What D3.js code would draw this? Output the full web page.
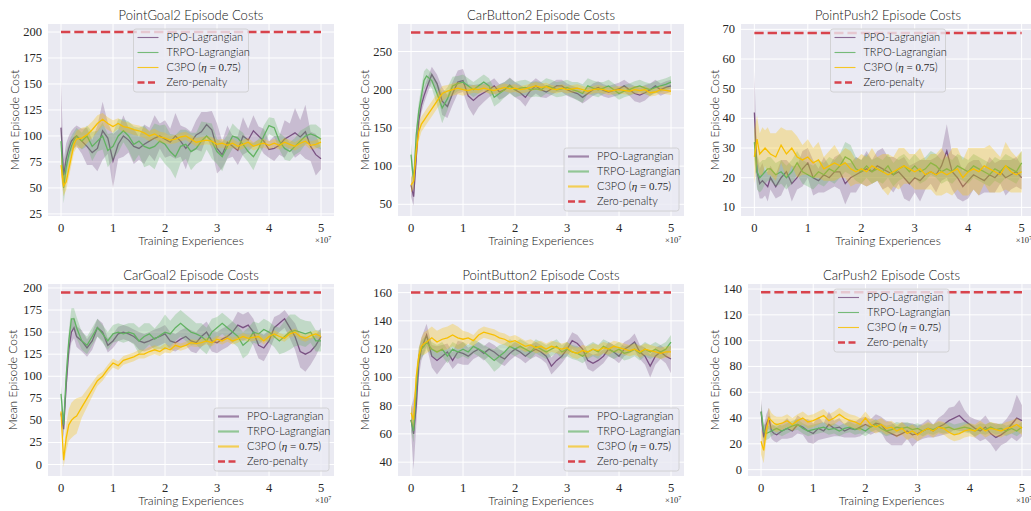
<!DOCTYPE html>
<html>
<head>
<meta charset="utf-8">
<script src="https://cdn.jsdelivr.net/npm/d3@7"></script>
<style>
    body { margin: 0; background: #ffffff; }
    .sans { font-family: Lato, "DejaVu Sans", sans-serif; font-weight: 300; fill: #111111; }
    .serif { font-family: "Liberation Serif", "DejaVu Serif", serif; font-weight: 400; fill: #262626; }
</style>
</head>
<body>
<div id="chart"></div>
<script>
// training experiences, in units of 1e7
const steps = [0, 0.05, 0.1, 0.15, 0.2, 0.25, 0.3,
    0.4, 0.5, 0.6, 0.7, 0.8, 0.9, 1.0,
    1.1, 1.2, 1.3, 1.4, 1.5, 1.6, 1.7, 1.8, 1.9, 2.0,
    2.1, 2.2, 2.3, 2.4, 2.5, 2.6, 2.7, 2.8, 2.9, 3.0,
    3.1, 3.2, 3.3, 3.4, 3.5, 3.6, 3.7, 3.8, 3.9, 4.0,
    4.1, 4.2, 4.3, 4.4, 4.5, 4.6, 4.7, 4.8, 4.9, 5.0];

const xTicks = [0, 1, 2, 3, 4, 5];
const legendLabels = ['PPO-Lagrangian', 'TRPO-Lagrangian', 'C3PO', 'Zero-penalty'];
const panelTitles = ['PointGoal2 Episode Costs', 'CarButton2 Episode Costs', 'PointPush2 Episode Costs',
    'CarGoal2 Episode Costs', 'PointButton2 Episode Costs', 'CarPush2 Episode Costs'];
const zeroPenalty = [200, 275, 68.8, 195, 160, 137.5];
const yTicks = [
    [25, 50, 75, 100, 125, 150, 175, 200],
    [50, 100, 150, 200, 250],
    [10, 20, 30, 40, 50, 60, 70],
    [0, 25, 50, 75, 100, 125, 150, 175, 200],
    [40, 60, 80, 100, 120, 140, 160],
    [0, 20, 40, 60, 80, 100, 120, 140]
];

// PointGoal2
const pointGoalPPO = [108, 62, 78, 88, 95, 98, 100,
    95, 90, 84, 88, 105, 98, 76,
    92, 100, 96, 90, 88, 92, 95, 98, 100, 97,
    94, 100, 95, 88, 94, 101, 104, 111, 106, 88,
    82, 94, 90, 86, 100, 96, 105, 100, 95, 87,
    88, 91, 97, 100, 103, 99, 104, 90, 82, 78];
const pointGoalPPOSpread = [45, 15, 15, 12, 10, 10, 10,
    12, 18, 12, 22, 28, 15, 26,
    14, 20, 12, 17, 11, 19, 13, 22, 12, 18,
    13, 22, 15, 20, 10, 14, 19, 12, 18, 24,
    13, 16, 10, 14, 18, 11, 15, 9, 12, 8,
    12, 9, 18, 12, 24, 16, 26, 14, 20, 10];
const pointGoalTRPO = [95, 50, 70, 82, 90, 96, 100,
    95, 100, 90, 95, 100, 86, 90,
    100, 105, 100, 92, 95, 90, 88, 90, 95, 92,
    85, 80, 90, 92, 85, 88, 95, 100, 95, 85,
    80, 90, 100, 98, 92, 85, 80, 88, 100, 110,
    108, 95, 88, 85, 90, 95, 100, 102, 100, 97];
const pointGoalTRPOSpread = [15, 15, 15, 12, 10, 8, 8,
    8, 10, 14, 10, 13, 16, 13,
    16, 11, 14, 17, 13, 20, 16, 22, 15, 19,
    17, 21, 16, 14, 18, 15, 19, 13, 17, 12,
    14, 11, 12, 9, 11, 10, 13, 9, 10, 8,
    9, 8, 11, 9, 8, 10, 8, 9, 11, 10];
const pointGoalC3PO = [72, 52, 56, 68, 80, 92, 97,
    98, 101, 106, 112, 116, 112, 109,
    112, 109, 108, 106, 105, 103, 100, 102, 99, 98,
    96, 97, 99, 100, 97, 94, 95, 96, 95, 92,
    93, 91, 93, 90, 92, 94, 90, 92, 93, 91,
    93, 91, 94, 92, 90, 93, 95, 91, 92, 94];
const pointGoalC3POSpread = [12, 10, 8, 8, 8, 8, 8,
    10, 8, 8, 8, 6, 6, 6,
    5, 5, 5, 5, 5, 5, 5, 5, 5, 5,
    4, 4, 4, 4, 4, 4, 4, 4, 4, 4,
    4, 4, 4, 4, 4, 4, 4, 4, 4, 4,
    4, 4, 4, 4, 4, 4, 4, 4, 4, 4];

// CarButton2
const carButtonPPO = [75, 60, 110, 160, 180, 192, 202,
    220, 208, 185, 178, 195, 210, 212,
    192, 186, 192, 196, 200, 205, 197, 200, 206, 200,
    196, 190, 199, 205, 200, 197, 201, 205, 205, 200,
    197, 195, 190, 195, 200, 203, 199, 197, 199, 201,
    205, 200, 195, 193, 196, 200, 205, 200, 203, 205];
const carButtonPPOSpread = [15, 12, 12, 12, 10, 10, 10,
    10, 12, 18, 15, 15, 15, 15,
    15, 20, 15, 12, 10, 10, 10, 10, 10, 10,
    10, 12, 10, 10, 10, 8, 8, 8, 8, 8,
    8, 8, 8, 8, 8, 8, 8, 8, 8, 8,
    8, 8, 10, 10, 10, 8, 8, 8, 8, 8];
const carButtonTRPO = [115, 80, 140, 172, 192, 212, 218,
    212, 195, 176, 188, 205, 208, 210,
    205, 200, 205, 210, 205, 190, 195, 200, 205, 200,
    202, 203, 200, 201, 200, 205, 203, 200, 201, 203,
    200, 198, 195, 205, 202, 200, 202, 205, 200, 195,
    198, 200, 203, 205, 202, 200, 203, 205, 207, 210];
const carButtonTRPOSpread = [15, 12, 12, 12, 12, 12, 10,
    10, 15, 20, 15, 12, 10, 10,
    10, 10, 10, 10, 10, 12, 12, 10, 10, 10,
    10, 10, 10, 10, 10, 10, 10, 10, 10, 10,
    10, 12, 12, 10, 10, 10, 8, 8, 8, 8,
    8, 8, 8, 8, 8, 8, 8, 8, 8, 8];
const carButtonC3PO = [75, 80, 120, 145, 155, 160, 165,
    175, 185, 195, 198, 200, 202, 200,
    199, 201, 200, 202, 200, 199, 201, 203, 201, 202,
    200, 201, 203, 205, 203, 204, 201, 200, 202, 200,
    201, 202, 200, 198, 200, 201, 200, 198, 199, 200,
    199, 198, 200, 199, 200, 196, 197, 200, 199, 198];
const carButtonC3POSpread = [10, 10, 12, 12, 10, 10, 10,
    10, 10, 10, 8, 8, 8, 8,
    5, 5, 5, 5, 5, 5, 5, 5, 5, 5,
    5, 5, 5, 5, 5, 5, 5, 5, 5, 5,
    5, 5, 5, 5, 5, 5, 5, 5, 5, 5,
    5, 5, 5, 5, 5, 5, 5, 5, 5, 5];

// PointPush2
const pointPushPPO = [42, 22, 18, 19, 18, 17, 20,
    17, 20, 22, 18, 20, 23, 25,
    20, 19, 21, 20, 22, 22, 18, 20, 21, 22,
    23, 22, 24, 23, 22, 21, 22, 20, 18, 20,
    19, 21, 22, 21, 24, 29, 22, 20, 17, 19,
    21, 20, 19, 21, 20, 22, 20, 21, 22, 20];
const pointPushPPOSpread = [14, 5, 5, 6, 4, 5, 4,
    4, 6, 4, 6, 4, 6, 5,
    6, 4, 6, 4, 5, 6, 7, 5, 6, 4,
    6, 4, 5, 7, 5, 6, 4, 7, 6, 5,
    7, 5, 4, 6, 5, 9, 6, 7, 5, 6,
    5, 6, 4, 6, 5, 4, 6, 5, 5, 4];
const pointPushTRPO = [32, 22, 20, 21, 22, 23, 23,
    21, 22, 20, 22, 25, 22, 21,
    20, 22, 21, 23, 22, 24, 27, 26, 23, 22,
    24, 22, 23, 22, 24, 21, 23, 24, 22, 24,
    22, 23, 25, 24, 22, 23, 22, 24, 23, 22,
    24, 23, 22, 21, 23, 22, 24, 23, 22, 25];
const pointPushTRPOSpread = [6, 6, 5, 5, 4, 4, 4,
    4, 4, 4, 4, 4, 4, 4,
    4, 4, 4, 4, 4, 4, 5, 5, 4, 4,
    4, 4, 4, 4, 4, 4, 4, 4, 4, 4,
    4, 4, 4, 4, 4, 4, 4, 4, 4, 4,
    4, 4, 4, 4, 4, 4, 4, 4, 4, 4];
const pointPushC3PO = [27, 33, 28, 29, 30, 29, 28,
    27, 31, 28, 30, 27, 26, 27,
    25, 26, 23, 24, 25, 24, 25, 23, 22, 23,
    22, 24, 23, 22, 21, 22, 23, 24, 23, 22,
    23, 21, 22, 21, 22, 21, 22, 23, 20, 22,
    23, 22, 24, 23, 22, 21, 24, 22, 21, 22];
const pointPushC3POSpread = [9, 8, 7, 8, 6, 8, 7,
    8, 6, 8, 6, 7, 5, 6,
    5, 6, 4, 5, 6, 4, 5, 6, 4, 5,
    5, 6, 4, 6, 7, 5, 7, 6, 5, 6,
    7, 5, 6, 7, 8, 6, 8, 7, 6, 8,
    7, 8, 6, 8, 7, 6, 8, 7, 6, 7];

// CarGoal2
const carGoalPPO = [58, 40, 90, 130, 150, 155, 145,
    140, 132, 140, 155, 150, 135, 140,
    148, 150, 148, 145, 140, 138, 140, 143, 145, 148,
    140, 138, 142, 145, 140, 138, 145, 150, 140, 138,
    142, 145, 150, 158, 155, 158, 150, 135, 132, 140,
    155, 160, 165, 155, 145, 128, 125, 128, 135, 145];
const carGoalPPOSpread = [10, 10, 12, 12, 12, 12, 12,
    12, 10, 10, 10, 10, 8, 8,
    8, 8, 8, 8, 10, 10, 10, 10, 10, 10,
    10, 10, 10, 10, 12, 12, 12, 12, 12, 12,
    12, 12, 12, 15, 15, 15, 15, 15, 15, 12,
    12, 10, 10, 12, 15, 18, 20, 15, 12, 10];
const carGoalTRPO = [80, 45, 100, 140, 165, 165, 155,
    140, 135, 145, 155, 148, 140, 148,
    150, 148, 150, 148, 140, 145, 148, 142, 146, 150,
    148, 155, 160, 155, 150, 148, 145, 140, 150, 155,
    160, 155, 150, 145, 135, 140, 150, 148, 153, 150,
    145, 140, 145, 150, 152, 150, 148, 150, 140, 140];
const carGoalTRPOSpread = [10, 10, 12, 12, 12, 12, 12,
    10, 10, 10, 10, 10, 10, 10,
    10, 10, 10, 12, 15, 15, 12, 12, 15, 20,
    15, 15, 15, 15, 15, 12, 15, 15, 15, 12,
    12, 12, 12, 12, 15, 15, 12, 12, 12, 12,
    12, 15, 18, 20, 18, 15, 15, 12, 12, 12];
const carGoalC3PO = [60, 5, 30, 45, 50, 53, 55,
    65, 75, 85, 95, 100, 108, 115,
    112, 118, 120, 122, 125, 125, 128, 130, 128, 132,
    130, 135, 133, 135, 138, 137, 138, 140, 138, 142,
    140, 143, 140, 142, 145, 143, 144, 145, 140, 145,
    148, 145, 143, 148, 150, 145, 143, 146, 148, 145];
const carGoalC3POSpread = [5, 8, 15, 18, 20, 20, 20,
    12, 10, 8, 6, 5, 5, 5,
    5, 5, 5, 5, 5, 5, 5, 5, 5, 5,
    4, 4, 4, 4, 4, 4, 4, 4, 4, 4,
    4, 4, 4, 4, 4, 4, 4, 4, 4, 4,
    4, 4, 4, 4, 4, 4, 4, 4, 4, 4];

// PointButton2
const pointButtonPPO = [70, 60, 80, 110, 120, 125, 130,
    115, 112, 115, 118, 112, 118, 117,
    115, 118, 120, 117, 120, 118, 115, 113, 117, 120,
    118, 115, 118, 120, 118, 115, 108, 112, 115, 120,
    126, 124, 120, 112, 110, 112, 115, 120, 118, 115,
    120, 122, 125, 118, 115, 108, 115, 118, 115, 113];
const pointButtonPPOSpread = [8, 25, 15, 10, 8, 8, 8,
    8, 10, 8, 6, 6, 8, 8,
    6, 5, 5, 5, 5, 5, 5, 5, 5, 5,
    5, 5, 5, 5, 5, 5, 6, 6, 5, 5,
    6, 6, 5, 6, 6, 5, 5, 5, 5, 5,
    5, 5, 6, 5, 6, 8, 6, 5, 5, 10];
const pointButtonTRPO = [70, 62, 90, 115, 120, 122, 125,
    120, 118, 120, 115, 120, 118, 120,
    118, 122, 120, 118, 115, 112, 115, 118, 122, 120,
    122, 120, 118, 122, 120, 118, 120, 122, 118, 120,
    118, 117, 115, 118, 120, 118, 122, 120, 118, 120,
    117, 118, 120, 117, 120, 118, 120, 118, 120, 125];
const pointButtonTRPOSpread = [8, 8, 8, 6, 6, 6, 5,
    5, 5, 5, 5, 5, 5, 5,
    5, 5, 5, 5, 6, 8, 8, 6, 5, 5,
    5, 5, 5, 5, 5, 5, 5, 5, 5, 5,
    5, 5, 5, 5, 5, 5, 5, 5, 5, 5,
    5, 5, 5, 5, 5, 5, 5, 5, 5, 5];
const pointButtonC3PO = [75, 70, 100, 115, 122, 124, 125,
    128, 125, 127, 128, 130, 128, 127,
    128, 126, 130, 132, 131, 130, 128, 127, 125, 126,
    124, 122, 123, 121, 122, 120, 122, 121, 120, 121,
    118, 117, 119, 118, 120, 119, 121, 120, 122, 121,
    120, 119, 120, 118, 120, 119, 118, 117, 118, 118];
const pointButtonC3POSpread = [6, 6, 6, 6, 6, 8, 8,
    8, 8, 8, 8, 8, 8, 6,
    4, 4, 4, 4, 4, 4, 4, 4, 4, 4,
    4, 4, 4, 4, 4, 4, 4, 4, 4, 4,
    4, 4, 4, 4, 4, 4, 4, 4, 4, 4,
    4, 4, 4, 4, 4, 4, 4, 4, 4, 4];

// CarPush2
const carPushPPO = [45, 25, 35, 40, 30, 28, 27,
    30, 32, 30, 35, 33, 30, 28,
    32, 30, 35, 32, 33, 30, 32, 31, 33, 35,
    33, 36, 35, 30, 28, 26, 28, 30, 27, 28,
    30, 32, 30, 33, 35, 38, 40, 42, 38, 35,
    32, 30, 33, 28, 25, 27, 30, 35, 40, 38];
const carPushPPOSpread = [10, 8, 8, 8, 6, 6, 6,
    6, 8, 5, 7, 6, 9, 8,
    9, 6, 10, 6, 7, 5, 7, 6, 7, 6,
    6, 7, 6, 8, 9, 7, 9, 6, 9, 6,
    6, 7, 5, 7, 8, 10, 9, 12, 8, 6,
    7, 8, 9, 8, 11, 8, 9, 10, 18, 12];
const carPushTRPO = [45, 30, 28, 29, 30, 31, 32,
    30, 32, 34, 35, 32, 30, 31,
    32, 33, 31, 32, 30, 32, 33, 31, 32, 30,
    33, 35, 32, 30, 31, 33, 32, 33, 31, 32,
    30, 32, 31, 33, 32, 33, 31, 32, 33, 32,
    30, 32, 31, 33, 31, 32, 30, 32, 30, 33];
const carPushTRPOSpread = [6, 6, 5, 5, 4, 4, 4,
    4, 4, 4, 4, 4, 4, 4,
    4, 4, 4, 4, 4, 4, 4, 4, 4, 4,
    4, 4, 4, 4, 4, 4, 4, 4, 4, 4,
    4, 4, 4, 4, 4, 4, 4, 4, 4, 4,
    4, 4, 4, 4, 4, 4, 4, 4, 4, 4];
const carPushC3PO = [22, 15, 30, 40, 38, 36, 35,
    36, 38, 35, 38, 40, 37, 38,
    40, 42, 38, 40, 43, 40, 38, 37, 35, 40,
    35, 33, 35, 32, 33, 30, 32, 28, 30, 27,
    30, 32, 30, 33, 32, 29, 27, 28, 30, 31,
    30, 33, 30, 32, 31, 30, 32, 33, 35, 32];
const carPushC3POSpread = [10, 10, 8, 8, 6, 6, 6,
    5, 5, 5, 5, 5, 5, 5,
    5, 5, 5, 5, 5, 5, 5, 5, 5, 5,
    5, 5, 5, 5, 5, 5, 5, 5, 5, 5,
    5, 5, 5, 5, 5, 5, 5, 5, 5, 5,
    5, 5, 5, 5, 5, 5, 5, 5, 5, 5];

const colors = ['#7a5283', '#62b262', '#f8bf00'];
const zeroColor = '#d8434c';

// pixel layout of the six axes
const layouts = [
    { left: 48, right: 334, top: 24, bottom: 216, yDomain: [23, 207.7], legend: 'top', ylabelX: 15 },
    { left: 398, right: 684, top: 24, bottom: 216, yDomain: [34.7, 286], legend: 'br', ylabelX: 365 },
    { left: 741, right: 1035, top: 24, bottom: 216, yDomain: [7.1, 71.8], legend: 'top', ylabelX: 715 },
    { left: 48, right: 334, top: 284, bottom: 476, yDomain: [-13, 204.5], legend: 'br', ylabelX: 13 },
    { left: 398, right: 684, top: 284, bottom: 476, yDomain: [30.2, 166.1], legend: 'br', ylabelX: 365 },
    { left: 748, right: 1035, top: 284, bottom: 476, yDomain: [-4.9, 143.9], legend: 'top', ylabelX: 715 }
];

const panelSeries = [
    [[pointGoalPPO, pointGoalPPOSpread], [pointGoalTRPO, pointGoalTRPOSpread], [pointGoalC3PO, pointGoalC3POSpread]],
    [[carButtonPPO, carButtonPPOSpread], [carButtonTRPO, carButtonTRPOSpread], [carButtonC3PO, carButtonC3POSpread]],
    [[pointPushPPO, pointPushPPOSpread], [pointPushTRPO, pointPushTRPOSpread], [pointPushC3PO, pointPushC3POSpread]],
    [[carGoalPPO, carGoalPPOSpread], [carGoalTRPO, carGoalTRPOSpread], [carGoalC3PO, carGoalC3POSpread]],
    [[pointButtonPPO, pointButtonPPOSpread], [pointButtonTRPO, pointButtonTRPOSpread], [pointButtonC3PO, pointButtonC3POSpread]],
    [[carPushPPO, carPushPPOSpread], [carPushTRPO, carPushTRPOSpread], [carPushC3PO, carPushC3POSpread]]
];

const svg = d3.select('#chart').append('svg')
    .attr('width', 1031)
    .attr('height', 511);

class CostPanel {
    constructor(_svg, _index) {
        this.svg = _svg;
        this.index = _index;
        this.config = layouts[_index];
        this.series = panelSeries[_index];
        this.initVis();
    }

    initVis() {
        let vis = this;
        const c = vis.config;
        vis.x = d3.scaleLinear().domain([-0.25, 5.25]).range([c.left, c.right]);
        vis.y = d3.scaleLinear().domain(c.yDomain).range([c.bottom, c.top]);

        vis.g = vis.svg.append('g');

        vis.g.append('rect')
            .attr('x', c.left).attr('y', c.top)
            .attr('width', c.right - c.left).attr('height', c.bottom - c.top)
            .attr('fill', '#eaeaf2');

        vis.g.append('clipPath').attr('id', 'clip' + vis.index)
            .append('rect')
            .attr('x', c.left).attr('y', c.top)
            .attr('width', c.right - c.left).attr('height', c.bottom - c.top);

        // grid
        vis.g.selectAll('.xgrid').data(xTicks).enter().append('line')
            .attr('x1', d => vis.x(d)).attr('x2', d => vis.x(d))
            .attr('y1', c.top).attr('y2', c.bottom)
            .attr('stroke', '#ffffff').attr('stroke-width', 1);
        vis.g.selectAll('.ygrid').data(yTicks[vis.index]).enter().append('line')
            .attr('x1', c.left).attr('x2', c.right)
            .attr('y1', d => vis.y(d)).attr('y2', d => vis.y(d))
            .attr('stroke', '#ffffff').attr('stroke-width', 1);

        // tick labels
        vis.g.selectAll('.xtick').data(xTicks).enter().append('text')
            .attr('class', 'serif')
            .attr('x', d => vis.x(d)).attr('y', c.bottom + 16)
            .attr('text-anchor', 'middle').attr('font-size', 12.5)
            .text(d => d);
        vis.g.selectAll('.ytick').data(yTicks[vis.index]).enter().append('text')
            .attr('class', 'serif')
            .attr('x', c.left - 6).attr('y', d => vis.y(d) + 4)
            .attr('text-anchor', 'end').attr('font-size', 12.5)
            .text(d => d);

        const plot = vis.g.append('g').attr('clip-path', `url(#clip${vis.index})`);
        vis.renderVis(plot);
        vis.drawLabels();
        vis.drawLegend();
    }

    renderVis(plot) {
        let vis = this;
        vis.series.forEach((s, k) => {
            const mean = s[0], spread = s[1];
            const area = d3.area()
                .x((d, i) => vis.x(steps[i]))
                .y0((d, i) => vis.y(mean[i] - spread[i]))
                .y1((d, i) => vis.y(mean[i] + spread[i]));
            const line = d3.line()
                .x((d, i) => vis.x(steps[i]))
                .y(d => vis.y(d));
            plot.append('path').datum(mean)
                .attr('d', area)
                .attr('fill', colors[k]).attr('fill-opacity', 0.3);
            plot.append('path').datum(mean)
                .attr('d', line)
                .attr('fill', 'none')
                .attr('stroke', colors[k]).attr('stroke-width', 1.3);
        });

        // zero-penalty reference
        plot.append('line')
            .attr('x1', vis.x(0)).attr('x2', vis.x(5))
            .attr('y1', vis.y(zeroPenalty[vis.index])).attr('y2', vis.y(zeroPenalty[vis.index]))
            .attr('stroke', zeroColor).attr('stroke-width', 2.5)
            .attr('stroke-dasharray', '9.3,4');
    }

    drawLabels() {
        let vis = this;
        const c = vis.config;
        const mid = (c.left + c.right) / 2;
        vis.g.append('text').attr('class', 'sans')
            .attr('x', mid).attr('y', c.top - 4)
            .attr('text-anchor', 'middle').attr('font-size', 13)
            .text(panelTitles[vis.index]);
        vis.g.append('text').attr('class', 'sans')
            .attr('x', mid).attr('y', c.bottom + 29)
            .attr('text-anchor', 'middle').attr('font-size', 12)
            .text('Training Experiences');
        vis.g.append('text').attr('class', 'sans')
            .attr('transform', `translate(${c.ylabelX + 4},${(c.top + c.bottom) / 2}) rotate(-90)`)
            .attr('text-anchor', 'middle').attr('font-size', 12)
            .text('Mean Episode Cost');
        const off = vis.g.append('text').attr('class', 'serif')
            .attr('x', vis.x(5) - 6).attr('y', c.bottom + 27)
            .attr('font-size', 8.5);
        off.append('tspan').text('×10');
        off.append('tspan').attr('dy', -3).attr('font-size', 6).text('7');
    }

    drawLegend() {
        let vis = this;
        const c = vis.config;
        const w = 115, h = 63;
        let lx, ly;
        if (c.legend === 'top') {
            lx = (c.left + c.right) / 2 - w / 2;
            ly = c.top + 5;
        } else {
            lx = c.right - 5 - w;
            ly = c.bottom - 5 - h;
        }
        const thick = c.legend !== 'top';
        const lg = vis.g.append('g').attr('transform', `translate(${lx},${ly})`);
        lg.append('rect')
            .attr('width', w).attr('height', h).attr('rx', 2.5)
            .attr('fill', '#eaeaf2').attr('fill-opacity', 0.8)
            .attr('stroke', '#cccccc').attr('stroke-width', 0.8);

        legendLabels.forEach((name, k) => {
            const ry = 8.5 + k * 15;
            const ln = lg.append('line')
                .attr('x1', 4).attr('x2', 25)
                .attr('y1', ry).attr('y2', ry);
            if (k < 3) {
                ln.attr('stroke', colors[k])
                    .attr('stroke-width', thick ? 2.2 : 1.1)
                    .attr('stroke-opacity', thick ? 0.65 : 0.85);
            } else {
                ln.attr('stroke', zeroColor).attr('stroke-width', 2.5)
                    .attr('stroke-dasharray', '7,3.5');
            }
            const t = lg.append('text').attr('class', 'sans')
                .attr('x', 33).attr('y', ry + 3.8)
                .attr('font-size', 11);
            if (k === 2) {
                t.append('tspan').text('C3PO (');
                t.append('tspan').attr('class', 'serif').attr('font-style', 'italic').text('η');
                t.append('tspan').attr('class', 'serif').text(' = 0.75');
                t.append('tspan').text(')');
            } else {
                t.text(name);
            }
        });
    }
}

layouts.forEach((d, i) => new CostPanel(svg, i));
</script>
</body>
</html>
